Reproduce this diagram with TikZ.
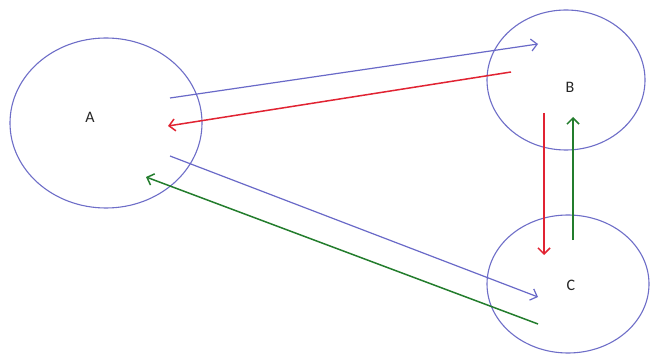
\documentclass[tikz,border=0pt]{standalone}
\usepackage{fontspec}
\setmainfont{Carlito}
\usetikzlibrary{shapes.geometric,arrows.meta}
\definecolor{ellcol}{RGB}{110,110,200}
\definecolor{bluarr}{RGB}{105,105,200}
\definecolor{redarr}{RGB}{225,35,50}
\definecolor{grnarr}{RGB}{35,125,45}
\begin{document}
\begin{tikzpicture}[x=1pt,y=-1pt,
  ell/.style={draw=ellcol, line width=1.1pt, ellipse, inner sep=0pt},
  lbl/.style={font=\fontsize{16}{18}\selectfont, text=black!85},
  conn/.style={line width=1.5pt, -{Straight Barb[length=6pt,width=12pt]}},
  bconn/.style={conn, draw=bluarr, line width=1.2pt},
  rconn/.style={conn, draw=redarr},
  gconn/.style={conn, draw=grnarr}]
\useasboundingbox (0,0) rectangle (650,358);
\fill[white] (0,0) rectangle (650,358);
\node[ell, minimum width=192pt, minimum height=170pt] (A) at (106,123) {};
\node[ell, minimum width=158pt, minimum height=140pt] (B) at (566,80) {};
\node[ell, minimum width=162pt, minimum height=138pt] (C) at (568,284) {};
\node[lbl] (la) at (90,117) {A};
\node[lbl] (lb) at (570,87) {B};
\node[lbl] (lc) at (571,285) {C};
% connector ends
\coordinate (ab1) at (170,98);  \coordinate (ab2) at (538,44);
\coordinate (ba1) at (511,72);  \coordinate (ba2) at (168,126);
\coordinate (ac1) at (170,156); \coordinate (ac2) at (538,297);
\coordinate (ca1) at (538,324); \coordinate (ca2) at (146,177);
\coordinate (bc1) at (544,113); \coordinate (bc2) at (544,255);
\coordinate (cb1) at (573,240); \coordinate (cb2) at (573,117);
\draw[bconn] (ab1) -- (ab2);
\draw[rconn] (ba1) -- (ba2);
\draw[bconn] (ac1) -- (ac2);
\draw[gconn] (ca1) -- (ca2);
\draw[rconn] (bc1) -- (bc2);
\draw[gconn] (cb1) -- (cb2);
\end{tikzpicture}
\end{document}
